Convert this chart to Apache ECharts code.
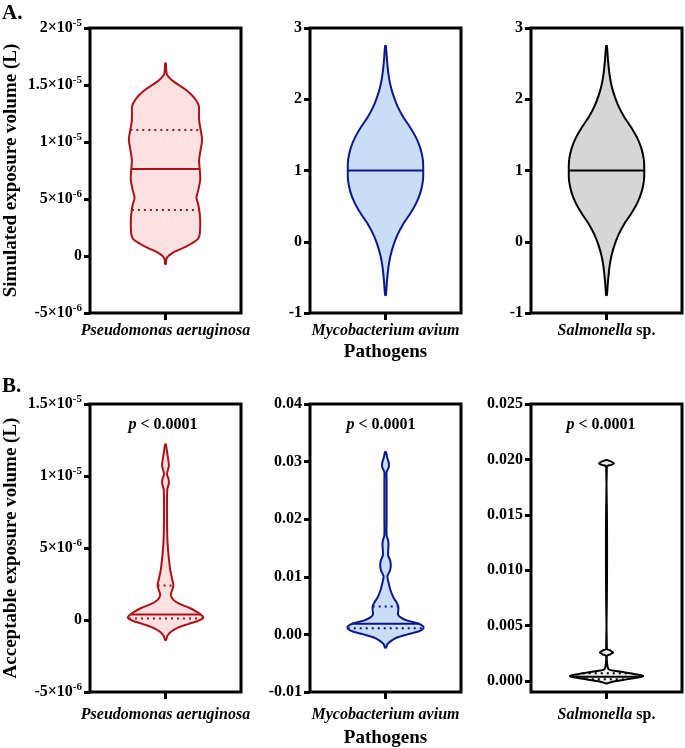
<!DOCTYPE html>
<html>
<head>
<meta charset="utf-8">
<script src="https://cdn.jsdelivr.net/npm/echarts@6/dist/echarts.min.js"></script>
<style>
  html, body { margin: 0; padding: 0; background: #fff; }
  #chart { width: 685px; height: 748px; }
</style>
</head>
<body>
<div id="chart"></div>
<script>
// category names (one per panel column)
const categories = ['Pseudomonas aeruginosa', 'Mycobacterium avium', 'Salmonella sp.'];

// ---------- A. simulated exposure volume ----------
// violin outline: values and relative half-widths (density, 0..1)
const simPaeVals = [16.9e-6, 16.3e-6, 15.9e-6, 15.4e-6, 15.0e-6, 14.6e-6, 14.1e-6, 13.7e-6, 13.2e-6, 12.8e-6, 11.9e-6, 11.1e-6, 10.2e-6, 9.3e-6, 8.4e-6, 7.5e-6, 6.7e-6, 5.8e-6, 5.1e-6, 4.5e-6, 3.6e-6, 2.7e-6, 1.8e-6, 1.4e-6, 0.8e-6, 0.26e-6, -0.1e-6, -0.35e-6, -0.7e-6];
const simPaeDens = [0.01, 0.02, 0.04, 0.18, 0.35, 0.53, 0.7, 0.8, 0.88, 0.89, 0.89, 0.93, 0.97, 0.93, 0.89, 0.91, 0.92, 0.87, 0.82, 0.87, 0.91, 0.92, 0.9, 0.83, 0.53, 0.18, 0.05, 0.02, 0.01];
const simPaeQuart = [4.04e-6, 7.63e-6, 1.105e-5]; // lower quartile, median, upper quartile

const simMavVals = [2.75, 2.55, 2.35, 2.2, 2.05, 1.9, 1.75, 1.6, 1.45, 1.3, 1.15, 1.0, 0.85, 0.7, 0.55, 0.4, 0.25, 0.1, -0.05, -0.2, -0.35, -0.55, -0.75];
const simMavDens = [0.01, 0.04, 0.08, 0.13, 0.21, 0.32, 0.47, 0.66, 0.82, 0.93, 0.99, 1.0, 0.99, 0.93, 0.82, 0.66, 0.47, 0.32, 0.21, 0.13, 0.08, 0.04, 0.01];
const simMavQuart = [null, 1.0, null];

const simSalVals = [2.75, 2.55, 2.35, 2.2, 2.05, 1.9, 1.75, 1.6, 1.45, 1.3, 1.15, 1.0, 0.85, 0.7, 0.55, 0.4, 0.25, 0.1, -0.05, -0.2, -0.35, -0.55, -0.75];
const simSalDens = [0.01, 0.04, 0.08, 0.13, 0.21, 0.32, 0.47, 0.66, 0.82, 0.93, 0.99, 1.0, 0.99, 0.93, 0.82, 0.66, 0.47, 0.32, 0.21, 0.13, 0.08, 0.04, 0.01];
const simSalQuart = [null, 1.0, null];

// ---------- B. acceptable exposure volume ----------
const accPaeVals = [12.2e-6, 11.7e-6, 11.0e-6, 10.7e-6, 10.3e-6, 10.1e-6, 9.8e-6, 9.5e-6, 9.1e-6, 8.4e-6, 7.0e-6, 5.6e-6, 4.5e-6, 3.8e-6, 3.4e-6, 2.8e-6, 2.4e-6, 2.1e-6, 1.75e-6, 1.4e-6, 1.1e-6, 0.85e-6, 0.55e-6, 0.3e-6, 0.15e-6, -0.05e-6, -0.3e-6, -0.55e-6, -0.85e-6, -1.1e-6, -1.4e-6];
const accPaeDens = [0.01, 0.04, 0.08, 0.09, 0.05, 0.04, 0.08, 0.09, 0.05, 0.04, 0.04, 0.05, 0.08, 0.11, 0.13, 0.18, 0.21, 0.18, 0.14, 0.21, 0.39, 0.63, 0.84, 0.97, 1.0, 0.87, 0.58, 0.32, 0.13, 0.05, 0.01];
const accPaeQuart = [0.1e-6, 0.38e-6, 2.4e-6];

const accMavVals = [31.7e-3, 30.6e-3, 29.7e-3, 28.9e-3, 28.2e-3, 26.8e-3, 19.8e-3, 17.2e-3, 16.3e-3, 15.5e-3, 14.6e-3, 13.7e-3, 12.9e-3, 12.0e-3, 11.1e-3, 10.1e-3, 9.0e-3, 7.7e-3, 6.4e-3, 5.6e-3, 4.9e-3, 4.2e-3, 3.5e-3, 3.0e-3, 2.4e-3, 1.9e-3, 1.4e-3, 1.0e-3, 0.5e-3, 0.0, -0.5e-3, -1.2e-3, -1.7e-3, -2.3e-3];
const accMavDens = [0.01, 0.05, 0.09, 0.08, 0.03, 0.03, 0.03, 0.03, 0.07, 0.08, 0.07, 0.07, 0.12, 0.14, 0.12, 0.05, 0.08, 0.13, 0.21, 0.29, 0.34, 0.34, 0.33, 0.39, 0.58, 0.87, 1.0, 1.0, 0.87, 0.58, 0.32, 0.13, 0.05, 0.01];
const accMavQuart = [1.05e-3, 1.86e-3, 4.85e-3];

const accSalVals = [19.95e-3, 19.8e-3, 19.65e-3, 19.5e-3, 19.35e-3, 2.9e-3, 2.75e-3, 2.57e-3, 2.4e-3, 2.25e-3, 1.08e-3, 0.9e-3, 0.72e-3, 0.54e-3, 0.45e-3, 0.32e-3, 0.14e-3, -0.05e-3, -0.23e-3];
const accSalDens = [0.01, 0.13, 0.2, 0.13, 0.01, 0.01, 0.1, 0.18, 0.1, 0.01, 0.05, 0.26, 0.58, 0.87, 0.97, 0.87, 0.53, 0.18, 0.01];
const accSalQuart = [0.15e-3, 0.38e-3, 0.69e-3];

// ---------- axis ticks ----------
const simPaeTicks = [-5e-6, 0, 5e-6, 1e-5, 1.5e-5, 2e-5];
const simPaeTickLabels = ['-5×10^-6', '0', '5×10^-6', '1×10^-5', '1.5×10^-5', '2×10^-5'];
const simUnitTicks = [-1, 0, 1, 2, 3];
const simUnitTickLabels = ['-1', '0', '1', '2', '3'];
const accPaeTicks = [-5e-6, 0, 5e-6, 1e-5, 1.5e-5];
const accPaeTickLabels = ['-5×10^-6', '0', '5×10^-6', '1×10^-5', '1.5×10^-5'];
const accMavTicks = [-0.01, 0, 0.01, 0.02, 0.03, 0.04];
const accMavTickLabels = ['-0.01', '0.00', '0.01', '0.02', '0.03', '0.04'];
const accSalTicks = [0, 0.005, 0.01, 0.015, 0.02, 0.025];
const accSalTickLabels = ['0.000', '0.005', '0.010', '0.015', '0.020', '0.025'];

const FONT = '"Liberation Serif", "Times New Roman", serif';
const RED = '#ab1218', RED_FILL = '#fde0e0';
const BLUE = '#0c188c', BLUE_FILL = '#c9ddf6';
const BLACK = '#000', GRAY_FILL = '#d6d6d6', LIGHT_FILL = '#efefef';

var chart = echarts.init(document.getElementById('chart'), null, { renderer: 'canvas' });

// panel layout: [left, top, height]
var panels = [
    [90, 28, 285], [310, 28, 285], [531, 28, 285],
    [90, 404, 288], [310, 404, 288], [531, 404, 288]
];
var PW = 151;

function halfAt(vals, dens, v) {
    for (var i = 0; i < vals.length - 1; i++) {
        var a = vals[i], b = vals[i + 1];
        if ((v <= a && v >= b)) {
            var t = (a - v) / (a - b);
            return dens[i] + (dens[i + 1] - dens[i]) * t;
        }
    }
    return 0;
}

function violin(idx, vals, dens, quart, stroke, fill) {
    return {
        type: 'custom',
        xAxisIndex: idx,
        yAxisIndex: idx,
        data: [[0, quart[1]]],
        silent: true,
        renderItem: function (params, api) {
            var band = api.size([1, 0], [0, 0])[0];
            var maxHalf = band * 0.25;
            var cx = api.coord([0, quart[1]])[0];
            var right = vals.map(function (v, i) { return [cx + dens[i] * maxHalf, api.coord([0, v])[1]]; });
            var left = vals.map(function (v, i) { return [cx - dens[i] * maxHalf, api.coord([0, v])[1]]; }).reverse();
            var children = [{
                type: 'polygon',
                shape: { points: right.concat(left), smooth: 0.25 },
                style: { fill: fill, stroke: stroke, lineWidth: 2 }
            }];
            quart.forEach(function (q, k) {
                if (q === null) return;
                var h = halfAt(vals, dens, q) * maxHalf;
                var y = api.coord([0, q])[1];
                children.push({
                    type: 'line',
                    shape: { x1: cx - h, y1: y, x2: cx + h, y2: y },
                    style: { stroke: stroke, lineWidth: 2, lineDash: k === 1 ? null : [2, 4] }
                });
            });
            return { type: 'group', children: children };
        }
    };
}

function tickFormatter(ticks, labels) {
    return function (v) {
        for (var i = 0; i < ticks.length; i++) {
            if (Math.abs(ticks[i] - v) <= Math.abs(ticks[i]) * 1e-6 + 1e-15) {
                return labels[i].replace(/\^(-?\d+)/, '{sup|$1}');
            }
        }
        return '';
    };
}

function yAxisCfg(idx, min, max, ticks, labels, name) {
    return {
        type: 'value',
        gridIndex: idx,
        min: min,
        max: max,
        splitLine: { show: false },
        axisLine: { show: false },
        axisTick: { show: true, length: 6, lineStyle: { color: '#000', width: 3 }, customValues: ticks },
        axisLabel: {
            customValues: ticks,
            formatter: tickFormatter(ticks, labels),
            color: '#000',
            fontFamily: FONT,
            fontWeight: 'bold',
            fontSize: 16,
            lineHeight: 20,
            margin: 8,
            rich: {
                sup: { fontFamily: FONT, fontWeight: 'bold', fontSize: 11, lineHeight: 11, verticalAlign: 'top', color: '#000' }
            }
        },
        name: name || '',
        nameLocation: 'middle',
        nameGap: 69,
        nameTextStyle: { color: '#000', fontFamily: FONT, fontWeight: 'bold', fontSize: 19 }
    };
}

function xAxisCfg(idx, cat, name, nameGap, labelMargin) {
    return {
        type: 'category',
        gridIndex: idx,
        data: [cat],
        boundaryGap: true,
        axisLine: { show: false, onZero: false },
        axisTick: { show: true, alignWithLabel: true, length: 7, lineStyle: { color: '#000', width: 3 } },
        axisLabel: {
            margin: labelMargin,
            color: '#000',
            fontFamily: FONT,
            fontWeight: 'bold',
            fontSize: 16,
            formatter: function (v) {
                return v === 'Salmonella sp.' ? '{i|Salmonella} sp.' : '{i|' + v + '}';
            },
            rich: {
                i: { fontFamily: FONT, fontWeight: 'bold', fontStyle: 'italic', fontSize: 16, color: '#000' }
            }
        },
        name: name || '',
        nameLocation: 'middle',
        nameGap: nameGap,
        nameTextStyle: { color: '#000', fontFamily: FONT, fontWeight: 'bold', fontSize: 19 }
    };
}

var pText = function (x) {
    return {
        type: 'text', x: x, y: 425,
        style: {
            text: '{i|p} < 0.0001',
            fill: '#000',
            font: 'bold 16px ' + FONT,
            align: 'center',
            verticalAlign: 'middle',
            rich: { i: { fontFamily: FONT, fontWeight: 'bold', fontStyle: 'italic', fontSize: 16, fill: '#000' } }
        }
    };
};

var option = {
    animation: false,
    backgroundColor: '#fff',
    grid: panels.map(function (p) {
        return {
            left: p[0], top: p[1], width: PW, height: p[2],
            outerBoundsMode: 'none', containLabel: false,
            show: true, borderColor: '#000', borderWidth: 3, backgroundColor: 'transparent'
        };
    }),
    xAxis: [
        xAxisCfg(0, categories[0], '', 0, 10),
        xAxisCfg(1, categories[1], 'Pathogens', 30, 10),
        xAxisCfg(2, categories[2], '', 0, 10),
        xAxisCfg(3, categories[0], '', 0, 15),
        xAxisCfg(4, categories[1], 'Pathogens', 37, 15),
        xAxisCfg(5, categories[2], '', 0, 15)
    ],
    yAxis: [
        yAxisCfg(0, -5e-6, 2e-5, simPaeTicks, simPaeTickLabels, 'Simulated exposure volume (L)'),
        yAxisCfg(1, -1, 3, simUnitTicks, simUnitTickLabels),
        yAxisCfg(2, -1, 3, simUnitTicks, simUnitTickLabels),
        yAxisCfg(3, -5e-6, 1.5e-5, accPaeTicks, accPaeTickLabels, 'Acceptable exposure volume (L)'),
        yAxisCfg(4, -0.01, 0.04, accMavTicks, accMavTickLabels),
        yAxisCfg(5, -0.001, 0.025, accSalTicks, accSalTickLabels)
    ],
    series: [
        violin(0, simPaeVals, simPaeDens, simPaeQuart, RED, RED_FILL),
        violin(1, simMavVals, simMavDens, simMavQuart, BLUE, BLUE_FILL),
        violin(2, simSalVals, simSalDens, simSalQuart, BLACK, GRAY_FILL),
        violin(3, accPaeVals, accPaeDens, accPaeQuart, RED, RED_FILL),
        violin(4, accMavVals, accMavDens, accMavQuart, BLUE, BLUE_FILL),
        violin(5, accSalVals, accSalDens, accSalQuart, BLACK, LIGHT_FILL)
    ],
    graphic: [
        { type: 'text', left: 2, top: 3, style: { text: 'A.', fill: '#000', font: 'bold 21px ' + FONT } },
        { type: 'text', left: 2, top: 376, style: { text: 'B.', fill: '#000', font: 'bold 21px ' + FONT } },
        pText(163), pText(381), pText(601)
    ]
};

chart.setOption(option);
</script>
</body>
</html>
